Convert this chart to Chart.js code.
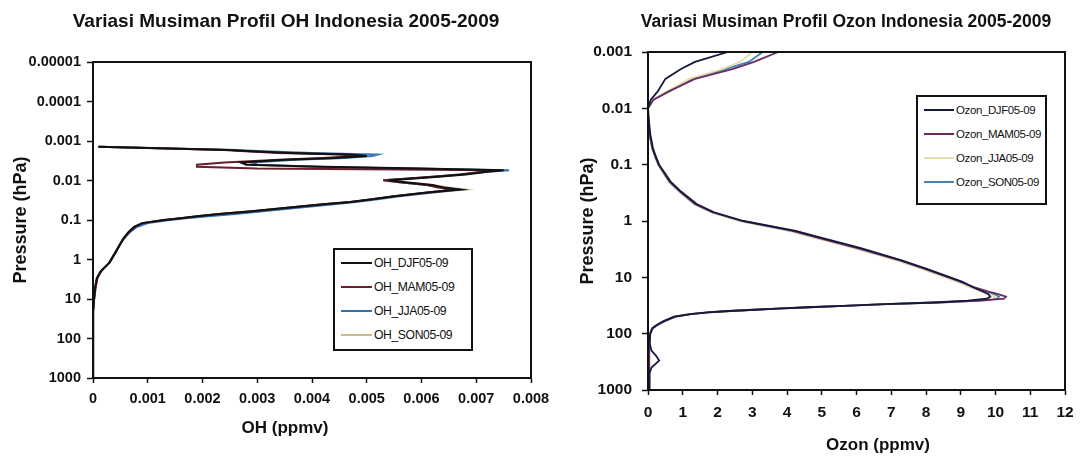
<!DOCTYPE html>
<html><head><meta charset="utf-8">
<script src="https://cdn.jsdelivr.net/npm/chart.js@4.4.1/dist/chart.umd.min.js"></script>
<style>
html,body{margin:0;padding:0;background:#fff;}
#wrap{position:relative;width:1087px;height:461px;overflow:hidden;background:#fff;font-family:"Liberation Sans",Arial,sans-serif;color:#111;}
#c1{position:absolute;left:0;top:0;width:560px;height:461px;}
#c2{position:absolute;left:560px;top:0;width:527px;height:461px;}
.legend{position:absolute;border:2px solid #111;background:#fff;box-sizing:border-box;}
.legend .row{position:absolute;display:flex;align-items:center;white-space:nowrap;}
.legend .sw{display:inline-block;height:2px;margin-right:2px;}
</style></head><body>
<div id="wrap">
<canvas id="c1" width="560" height="461"></canvas>
<canvas id="c2" width="527" height="461"></canvas>
<div id="leg1" class="legend" style="left:333px;top:248px;width:140px;height:103px;"></div>
<div id="leg2" class="legend" style="left:916px;top:95px;width:131px;height:110px;"></div>
</div>
<script>
// ---------- OH chart data ----------
const ohTitle = 'Variasi Musiman Profil OH Indonesia 2005-2009';
const ohNames = ['OH_DJF05-09', 'OH_MAM05-09', 'OH_JJA05-09', 'OH_SON05-09'];
const ohPressure = [1000, 500, 200, 100, 50, 20, 10, 5, 3, 2,
  1.2, 0.7, 0.4, 0.3, 0.2, 0.15, 0.12, 0.1, 0.09, 0.08,
  0.07, 0.06, 0.05, 0.04, 0.035, 0.03, 0.025, 0.02, 0.017, 0.015,
  0.013, 0.011, 0.0098, 0.009, 0.008, 0.007, 0.006, 0.0055, 0.005, 0.0045,
  0.004, 0.0035, 0.003, 0.0027, 0.0024, 0.0022, 0.002, 0.0018, 0.0017, 0.0014];
const ohDJF = [0, 0, 0, 0, 0, 0.00001, 0.00002, 0.00004, 0.00007, 0.00014,
  0.0003, 0.0004, 0.0005, 0.00055, 0.00065, 0.00075, 0.0009, 0.0013, 0.0016, 0.0019,
  0.0023, 0.0029, 0.0035, 0.0042, 0.0047, 0.0051, 0.0055, 0.0061, 0.0067, 0.0064,
  0.0062, 0.0057, 0.0054, 0.0058, 0.0063, 0.0068, 0.0072, 0.0075, 0.0060, 0.0042,
  0.0028, 0.0027, 0.0035, 0.0044, 0.0050, 0.0047, 0.0036, 0.0028, 0.0025, 0.0001];
const ohMAM = [0, 0, 0, 0, 0, 0.00001, 0.00002, 0.00005, 0.00008, 0.00015,
  0.0003, 0.0004, 0.0005, 0.00056, 0.00066, 0.00076, 0.0009, 0.0013, 0.0016, 0.0019,
  0.0023, 0.0029, 0.0035, 0.0042, 0.0047, 0.0051, 0.0055, 0.0061, 0.0066, 0.0063,
  0.0061, 0.0056, 0.0053, 0.0057, 0.0062, 0.0067, 0.0071, 0.0074, 0.0030, 0.0019,
  0.0019, 0.0024, 0.0034, 0.0042, 0.0048, 0.0045, 0.0034, 0.0027, 0.0024, 0.0001];
const ohJJA = [0, 0, 0, 0, 0, 0.00001, 0.00002, 0.00004, 0.00007, 0.00014,
  0.0003, 0.0004, 0.0005, 0.00056, 0.00068, 0.0008, 0.0010, 0.0014, 0.0017, 0.0021,
  0.0026, 0.0031, 0.0037, 0.0044, 0.0048, 0.0052, 0.0056, 0.0062, 0.0067, 0.0064,
  0.0061, 0.0056, 0.0053, 0.0057, 0.0062, 0.0067, 0.0072, 0.0076, 0.0058, 0.0040,
  0.0030, 0.0029, 0.0037, 0.0046, 0.0051, 0.0052, 0.0040, 0.0030, 0.0026, 0.0001];
const ohSON = [0, 0, 0, 0, 0, 0.00001, 0.00002, 0.00004, 0.00007, 0.00014,
  0.0003, 0.0004, 0.0005, 0.00055, 0.00066, 0.00077, 0.00095, 0.0013, 0.0016, 0.0020,
  0.0024, 0.0030, 0.0036, 0.0043, 0.0047, 0.0051, 0.0055, 0.0062, 0.0068, 0.0065,
  0.0062, 0.0057, 0.0054, 0.0058, 0.0063, 0.0068, 0.0072, 0.0074, 0.0057, 0.0041,
  0.0029, 0.0028, 0.0036, 0.0045, 0.0049, 0.0048, 0.0037, 0.0028, 0.0025, 0.0001];
const ohColors = ['#111111', '#6a1f2c', '#2f72b6', '#cbbb88'];
const ohYTicks = [0.00001, 0.0001, 0.001, 0.01, 0.1, 1, 10, 100, 1000];
const ohYLabels = ['0.00001', '0.0001', '0.001', '0.01', '0.1', '1', '10', '100', '1000'];
const ohXTicks = [0, 0.001, 0.002, 0.003, 0.004, 0.005, 0.006, 0.007, 0.008];
const ohXLabels = ['0', '0.001', '0.002', '0.003', '0.004', '0.005', '0.006', '0.007', '0.008'];

// ---------- Ozone chart data ----------
const ozTitle = 'Variasi Musiman Profil Ozon Indonesia 2005-2009';
const ozNames = ['Ozon_DJF05-09', 'Ozon_MAM05-09', 'Ozon_JJA05-09', 'Ozon_SON05-09'];
const ozPressure = [1000, 700, 500, 400, 300, 250, 200, 150, 100,
  80, 70, 60, 50, 45, 42, 40, 38, 36, 34,
  32, 30, 28, 26, 24, 22, 20, 18, 15, 12,
  10, 7, 5, 3, 2, 1.5, 1, 0.7, 0.5, 0.3,
  0.2, 0.1, 0.07, 0.05, 0.03, 0.02, 0.01, 0.007, 0.005, 0.003,
  0.002, 0.0015, 0.001];
const ozDJF = [0.03, 0.04, 0.05, 0.1, 0.32, 0.24, 0.1, 0.05, 0.06,
  0.12, 0.25, 0.45, 0.75, 1.2, 1.7, 2.2, 2.9, 3.7, 4.6,
  5.6, 6.8, 8.2, 9.2, 9.75, 9.85, 9.8, 9.65, 9.35, 9.05,
  8.7, 8.0, 7.3, 6.1, 5.0, 4.25, 2.75, 1.9, 1.4, 0.95,
  0.65, 0.32, 0.22, 0.14, 0.07, 0.04, 0.0, 0.08, 0.28, 0.5,
  0.95, 1.35, 2.3];
const ozMAM = [0.03, 0.03, 0.04, 0.03, 0.04, 0.04, 0.04, 0.04, 0.07,
  0.14, 0.27, 0.48, 0.8, 1.25, 1.75, 2.25, 2.95, 3.75, 4.65,
  5.7, 6.9, 8.4, 9.6, 10.25, 10.3, 10.1, 9.8, 9.4, 9.0,
  8.65, 7.95, 7.25, 6.0, 4.9, 4.15, 2.7, 1.85, 1.35, 0.92,
  0.62, 0.3, 0.2, 0.12, 0.05, 0.02, 0.0, 0.16, 0.6, 1.35,
  2.45, 3.05, 3.75];
const ozJJA = [0.03, 0.03, 0.03, 0.03, 0.03, 0.03, 0.03, 0.04, 0.06,
  0.13, 0.26, 0.46, 0.78, 1.22, 1.72, 2.2, 2.9, 3.7, 4.6,
  5.6, 6.8, 8.3, 9.4, 9.9, 10.0, 9.85, 9.6, 9.25, 8.9,
  8.55, 7.85, 7.15, 5.9, 4.8, 4.05, 2.6, 1.8, 1.32, 0.9,
  0.6, 0.3, 0.2, 0.12, 0.05, 0.02, 0.0, 0.14, 0.55, 1.2,
  2.15, 2.65, 3.0];
const ozSON = [0.03, 0.03, 0.03, 0.03, 0.03, 0.03, 0.03, 0.04, 0.06,
  0.13, 0.26, 0.46, 0.78, 1.22, 1.72, 2.2, 2.9, 3.7, 4.6,
  5.6, 6.8, 8.3, 9.5, 10.05, 10.1, 9.95, 9.7, 9.3, 8.95,
  8.6, 7.9, 7.2, 5.95, 4.85, 4.1, 2.65, 1.82, 1.33, 0.9,
  0.6, 0.3, 0.2, 0.12, 0.05, 0.02, 0.0, 0.15, 0.6, 1.25,
  2.25, 2.9, 3.3];
const ozColors = ['#141a3c', '#6b2a62', '#e2deae', '#3f84b2'];
const ozYTicks = [0.001, 0.01, 0.1, 1, 10, 100, 1000];
const ozYLabels = ['0.001', '0.01', '0.1', '1', '10', '100', '1000'];
const ozXTicks = [0, 1, 2, 3, 4, 5, 6, 7, 8, 9, 10, 11, 12];
const ozXLabels = ['0', '1', '2', '3', '4', '5', '6', '7', '8', '9', '10', '11', '12'];

// ---------- helpers ----------
const FONT = '"Liberation Sans", Arial, sans-serif';
const INK = '#111111';
Chart.defaults.font.family = FONT;
Chart.defaults.color = INK;

const framePlugin = {
  id: 'frame',
  afterDatasetsDraw(chart) {
    const {ctx, chartArea: a} = chart;
    ctx.save();
    ctx.strokeStyle = INK;
    ctx.lineWidth = 2;
    ctx.strokeRect(a.left, a.top, a.right - a.left, a.bottom - a.top);
    ctx.restore();
  }
};

// chart title and x-axis title, placed like the source
const textPlugin = {
  id: 'texts',
  afterDraw(chart, args, opts) {
    const {ctx} = chart;
    ctx.save();
    ctx.fillStyle = INK;
    ctx.textAlign = 'center';
    ctx.textBaseline = 'middle';
    opts.items.forEach(t => {
      ctx.font = 'bold ' + t.size + 'px ' + FONT;
      ctx.fillText(t.text, t.x, t.y);
    });
    ctx.restore();
  }
};

function makeSets(pressure, seriesList, names, colors, width) {
  return seriesList.map((vals, k) => ({
    label: names[k],
    data: pressure.map((p, i) => ({x: vals[i], y: p})),
    showLine: true,
    borderColor: colors[k],
    backgroundColor: colors[k],
    borderWidth: width,
    pointRadius: 0,
    tension: 0,
    fill: false
  }));
}

function makeChart(canvas, cfg) {
  return new Chart(canvas, {
    type: 'scatter',
    data: {datasets: makeSets(cfg.pressure, cfg.series, cfg.names, cfg.colors, cfg.lineWidth)},
    plugins: [framePlugin, textPlugin],
    options: {
      responsive: false,
      animation: false,
      devicePixelRatio: 1,
      layout: {padding: {left: 0, right: cfg.padRight, top: cfg.padTop, bottom: 0}},
      plugins: {
        legend: {display: false},
        tooltip: {enabled: false},
        title: {display: false},
        texts: {items: [
          {text: cfg.title, size: cfg.titleSize, x: cfg.titleX, y: cfg.titleY},
          {text: cfg.xTitle, size: 17, x: cfg.xTitleX, y: cfg.xTitleY}
        ]}
      },
      scales: {
        x: {
          type: 'linear', min: cfg.xMin, max: cfg.xMax,
          afterBuildTicks: s => { s.ticks = cfg.xTicks.map(v => ({value: v})); },
          afterFit: s => { s.height = cfg.xHeight; },
          ticks: {callback: (v, i) => cfg.xLabels[i], autoSkip: false, maxRotation: 0,
                  padding: cfg.xTickPad, color: INK, font: {size: cfg.tickSize, weight: 'bold', family: FONT}},
          grid: {drawOnChartArea: false, tickLength: 5, color: INK, tickWidth: 1.5},
          border: {color: INK, width: 2},
          title: {display: false}
        },
        y: {
          type: 'logarithmic', reverse: true, min: cfg.yMin, max: cfg.yMax,
          afterBuildTicks: s => { s.ticks = cfg.yTicks.map(v => ({value: v})); },
          afterFit: s => { s.width = cfg.yWidth; },
          ticks: {callback: (v, i) => cfg.yLabels[i], autoSkip: false,
                  padding: cfg.yTickPad, color: INK, font: {size: cfg.tickSize, weight: 'bold', family: FONT}},
          grid: {drawOnChartArea: false, tickLength: 6, color: INK, tickWidth: 1.5},
          border: {color: INK, width: 2},
          title: {display: true, text: 'Pressure (hPa)', color: INK,
                  font: {size: 18, weight: 'bold', family: FONT},
                  padding: {top: cfg.yTitlePad, bottom: 0}}
        }
      }
    }
  });
}

makeChart(document.getElementById('c1'), {
  title: ohTitle, titleSize: 19, titleX: 286, titleY: 22, padTop: 62,
  pressure: ohPressure, series: [ohDJF, ohMAM, ohJJA, ohSON], names: ohNames, colors: ohColors, lineWidth: 2,
  padRight: 29, tickSize: 14.5,
  xMin: 0, xMax: 0.008, xTicks: ohXTicks, xLabels: ohXLabels, xHeight: 83, xTickPad: 7,
  xTitle: 'OH (ppmv)', xTitleX: 285, xTitleY: 428,
  yMin: 0.00001, yMax: 1000, yTicks: ohYTicks, yLabels: ohYLabels, yWidth: 93, yTickPad: 6, yTitlePad: 10
});

makeChart(document.getElementById('c2'), {
  title: ozTitle, titleSize: 17.5, titleX: 286, titleY: 22, padTop: 52,
  pressure: ozPressure, series: [ozDJF, ozMAM, ozJJA, ozSON], names: ozNames, colors: ozColors, lineWidth: 1.8,
  padRight: 22, tickSize: 15.5,
  xMin: 0, xMax: 12, xTicks: ozXTicks, xLabels: ozXLabels, xHeight: 71, xTickPad: 8,
  xTitle: 'Ozon (ppmv)', xTitleX: 318, xTitleY: 445,
  yMin: 0.001, yMax: 1000, yTicks: ozYTicks, yLabels: ozYLabels, yWidth: 88, yTickPad: 10, yTitlePad: 17
});

// ---------- legends (HTML text) ----------
function buildLegend(el, names, colors, opt) {
  names.forEach((n, k) => {
    const row = document.createElement('div');
    row.className = 'row';
    row.style.left = opt.left + 'px';
    row.style.top = (opt.top + k * opt.step) + 'px';
    row.style.fontSize = opt.font + 'px';
    row.style.letterSpacing = opt.ls + 'px';
    const sw = document.createElement('span');
    sw.className = 'sw';
    sw.style.width = opt.sw + 'px';
    sw.style.background = colors[k];
    const tx = document.createElement('span');
    tx.textContent = n;
    row.appendChild(sw);
    row.appendChild(tx);
    el.appendChild(row);
  });
}
buildLegend(document.getElementById('leg1'), ohNames, ohColors, {left: 6, top: 6, step: 24, font: 12.2, ls: -0.4, sw: 31});
buildLegend(document.getElementById('leg2'), ozNames, ozColors, {left: 6, top: 7, step: 24, font: 11.5, ls: -0.4, sw: 30});
</script>
</body></html>
